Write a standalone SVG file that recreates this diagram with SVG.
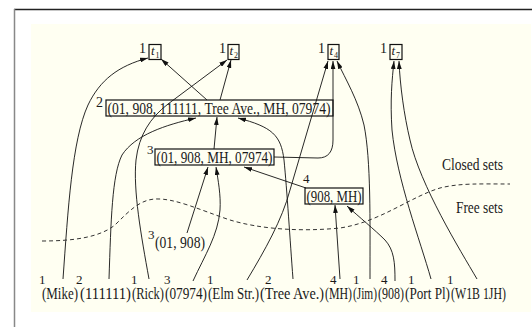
<svg xmlns="http://www.w3.org/2000/svg" width="532" height="327" viewBox="0 0 532 327">
<style>
text{font-family:"Liberation Serif","Times New Roman",serif;fill:#1a1a1a}
.lbl{font-size:16px}
.cnt{font-size:13px}
.top{font-size:14px}
.tt{font-size:13px;font-style:italic}
.sub{font-size:8px}
.box{fill:none;stroke:#111;stroke-width:1.2}
.e{fill:none;stroke:#111;stroke-width:0.9}
</style>
<defs>
<marker id="ah" viewBox="0 0 10 6" refX="10" refY="3" markerWidth="8" markerHeight="5" orient="auto" markerUnits="userSpaceOnUse"><path d="M0,0 L10,3 L0,6 z" fill="#111"/></marker>
</defs>
<rect x="0" y="0" width="532" height="327" fill="#ffffff"/>
<rect x="31" y="24" width="500" height="288" fill="#fffff2"/>
<path d="M14,9.5 H532" stroke="#222" stroke-width="1.5"/>
<path d="M14.5,9 V327" stroke="#888" stroke-width="1.5"/>

<g id="connectors">
<path class="e" marker-end="url(#ah)" d="M63,279 C68,210 72,140 88,105 C100,80 118,66 148,58"/>
<path class="e" marker-end="url(#ah)" d="M109,279 C111,220 112,175 122,155 C135,135 165,125 196,118"/>
<path class="e" marker-end="url(#ah)" d="M149,279 C141,235 133,190 136,160 C139,135 150,118 168,104 L227,60"/>
<path class="e" marker-end="url(#ah)" d="M207,100 L161,59"/>
<path class="e" marker-end="url(#ah)" d="M220,100 L231,60"/>
<path class="e" marker-end="url(#ah)" d="M247,280 C265,250 282,220 290,190 L328,61"/>
<path class="e" marker-end="url(#ah)" d="M274,157 L318,158 C328,158 333,152 333,140 L333,61"/>
<path class="e" marker-end="url(#ah)" d="M370,279 C370,220 371,160 364,125 C358,100 346,80 337,61"/>
<path class="e" marker-end="url(#ah)" d="M431,279 C420,240 397,180 392,130 C390,100 392,80 394,61"/>
<path class="e" marker-end="url(#ah)" d="M477,279 C460,250 420,185 410,140 C404,115 400,85 399,61"/>
<path class="e" marker-end="url(#ah)" d="M214,149 L217,117"/>
<path class="e" marker-end="url(#ah)" d="M306,188 L244,167"/>
<path class="e" marker-end="url(#ah)" d="M187,233 L208,167"/>
<path class="e" marker-end="url(#ah)" d="M193,281 C205,255 218,235 220,210 C221,195 218,180 216,167"/>
<path class="e" marker-end="url(#ah)" d="M293,279 C290,240 287,190 284,160 C281,135 272,127 238,118"/>
<path class="e" marker-end="url(#ah)" d="M340,279 L335,205"/>
<path class="e" marker-end="url(#ah)" d="M395,281 C395,262 394,250 385,240 C375,230 358,216 347,206"/>
</g>

<g id="divider">
<path d="M42,241 C75,241 100,237 115,225 C130,210 140,200 155,199 C175,198 200,210 230,220 C260,229 300,232 340,228 C380,222 410,197 440,188 C460,183 480,184 510,184" fill="none" stroke="#333" stroke-width="1" stroke-dasharray="4,3"/>
<text class="lbl" x="442" y="170" textLength="61" lengthAdjust="spacingAndGlyphs">Closed sets</text>
<text class="lbl" x="456" y="213" textLength="47" lengthAdjust="spacingAndGlyphs">Free sets</text>
</g>

<g id="t1"><text class="top" x="139" y="53">1</text><rect class="box" x="149" y="44.5" width="12" height="15"/><text class="tt" x="151" y="55">t</text><text class="sub" x="155.5" y="58">1</text></g>
<g id="t2"><text class="top" x="219" y="53">1</text><rect class="box" x="228" y="44.5" width="11" height="15"/><text class="tt" x="229.5" y="55">t</text><text class="sub" x="234" y="58">2</text></g>
<g id="t4"><text class="top" x="318" y="53">1</text><rect class="box" x="328" y="44.5" width="11" height="15"/><text class="tt" x="329.5" y="55">t</text><text class="sub" x="334" y="58">4</text></g>
<g id="t7"><text class="top" x="380" y="53">1</text><rect class="box" x="390" y="44.5" width="12" height="15"/><text class="tt" x="391.5" y="55">t</text><text class="sub" x="396" y="58">7</text></g>

<g id="n_big"><text class="top" x="96" y="107">2</text><rect class="box" x="106" y="100" width="227" height="16"/><text class="lbl" x="107.5" y="113.5" textLength="223" lengthAdjust="spacingAndGlyphs">(01, 908, 111111, Tree Ave., MH, 07974)</text></g>
<g id="n_mid"><text class="cnt" x="147" y="154">3</text><rect class="box" x="155" y="149" width="119" height="16"/><text class="lbl" x="156.5" y="162.5" textLength="116" lengthAdjust="spacingAndGlyphs">(01, 908, MH, 07974)</text></g>
<g id="n_908mh"><text class="cnt" x="303" y="183">4</text><rect class="box" x="305" y="188" width="58" height="16"/><text class="lbl" x="306.5" y="201.5" textLength="55" lengthAdjust="spacingAndGlyphs">(908, MH)</text></g>
<g id="n_01908"><text class="cnt" x="148" y="239">3</text><text class="lbl" x="155" y="248" textLength="50" lengthAdjust="spacingAndGlyphs">(01, 908)</text></g>

<g id="items">
<g id="i_mike"><text class="cnt" x="39" y="284">1</text><text class="lbl" x="42" y="299" textLength="36" lengthAdjust="spacingAndGlyphs">(Mike)</text></g>
<g id="i_111111"><text class="cnt" x="76" y="284">2</text><text class="lbl" x="80" y="299" textLength="51" lengthAdjust="spacingAndGlyphs">(111111)</text></g>
<g id="i_rick"><text class="cnt" x="131" y="284">1</text><text class="lbl" x="132" y="299" textLength="32" lengthAdjust="spacingAndGlyphs">(Rick)</text></g>
<g id="i_07974"><text class="cnt" x="164" y="284">3</text><text class="lbl" x="165" y="299" textLength="42" lengthAdjust="spacingAndGlyphs">(07974)</text></g>
<g id="i_elm"><text class="cnt" x="207" y="284">1</text><text class="lbl" x="208" y="299" textLength="51" lengthAdjust="spacingAndGlyphs">(Elm Str.)</text></g>
<g id="i_tree"><text class="cnt" x="265" y="284">2</text><text class="lbl" x="260" y="299" textLength="64" lengthAdjust="spacingAndGlyphs">(Tree Ave.)</text></g>
<g id="i_mh"><text class="cnt" x="330" y="284">4</text><text class="lbl" x="325" y="299" textLength="27" lengthAdjust="spacingAndGlyphs">(MH)</text></g>
<g id="i_jim"><text class="cnt" x="353" y="284">1</text><text class="lbl" x="353" y="299" textLength="24" lengthAdjust="spacingAndGlyphs">(Jim)</text></g>
<g id="i_908"><text class="cnt" x="381" y="284">4</text><text class="lbl" x="378" y="299" textLength="26" lengthAdjust="spacingAndGlyphs">(908)</text></g>
<g id="i_port"><text class="cnt" x="408" y="284">1</text><text class="lbl" x="405" y="299" textLength="45" lengthAdjust="spacingAndGlyphs">(Port Pl)</text></g>
<g id="i_w1b"><text class="cnt" x="447" y="284">1</text><text class="lbl" x="451" y="299" textLength="55" lengthAdjust="spacingAndGlyphs">(W1B 1JH)</text></g>
</g>
</svg>
